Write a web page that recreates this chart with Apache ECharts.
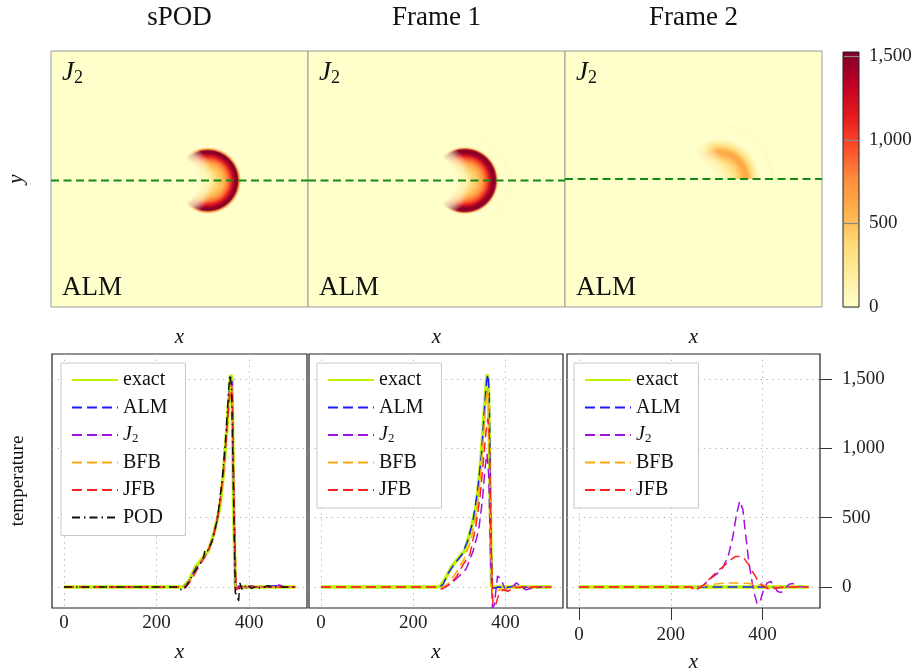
<!DOCTYPE html>
<html><head><meta charset="utf-8">
<script src="https://cdn.jsdelivr.net/npm/echarts@6/dist/echarts.min.js"></script>
<style>html,body{margin:0;padding:0;background:#fff}#c{width:919px;height:668px}</style>
</head><body><div id="c"></div>
<script>
// ---------- data ----------
const panelTitles = ['sPOD', 'Frame 1', 'Frame 2'];
const seriesNames = ['exact', 'ALM', 'J2', 'BFB', 'JFB', 'POD'];
const xTicks = [0, 200, 400];
const yTicks = [0, 500, 1000, 1500];
const colorbarTicks = [0, 500, 1000, 1500];
const colorbarRange = [0, 1527];
const ylOrRd = ['#ffffcc','#ffeda0','#fed976','#feb24c','#fd8d3c','#fc4e2a','#e31a1c','#bd0026','#800026'];

// heat field: centre x, centre y, radius (data units), dashed cut line y
const heatCenterX = [305, 305, 300];
const heatCenterY = [247, 247, 250];
const heatRadius = [65, 67, 80];
const cutLineY = [247, 247, 250];
const f1Ripples = [[1.3, 25], [1.6, 15]];
const f2Ripples = [[1.3, 25], [1.6, 18]];

// sPOD panel
const spodExact = [[0,0],[250,0],[258,3],[270,45],[283,140],[300,210],[312,262],[325,400],[337,580],[345,840],[350,1060],[355,1300],[358,1450],[360,1530],[363,1500],[366,700],[370,0],[500,0]];
const spodALM = [[0,0],[250,0],[258,0],[270,40],[285,140],[300,205],[315,290],[327,430],[338,620],[346,880],[352,1150],[357,1420],[360,1520],[363,1480],[367,600],[371,-10],[380,5],[395,-5],[410,0],[440,5],[460,10],[470,0],[500,0]];
const spodJ2 = [[0,0],[250,0],[260,0],[272,50],[288,150],[300,200],[315,285],[327,420],[338,610],[346,870],[352,1140],[357,1400],[360,1510],[363,1470],[367,600],[371,-30],[378,10],[390,-10],[405,10],[420,-5],[440,0],[455,10],[465,15],[475,0],[500,0]];
const spodBFB = [[0,0],[250,0],[260,0],[272,45],[288,145],[300,205],[315,290],[327,425],[338,600],[346,860],[352,1130],[357,1400],[360,1500],[363,1460],[367,580],[371,-15],[380,0],[500,0]];
const spodJFB = [[0,0],[250,0],[262,-5],[275,50],[290,140],[305,220],[320,330],[332,500],[342,760],[350,1050],[356,1320],[360,1420],[364,1380],[368,500],[372,-20],[385,5],[400,0],[500,0]];
const spodPOD = [[0,0],[245,0],[255,-25],[265,10],[280,100],[290,150],[300,200],[305,270],[310,260],[320,330],[332,500],[342,780],[350,1100],[355,1380],[358,1530],[362,1450],[366,700],[370,-40],[374,-60],[377,-110],[380,30],[385,-20],[395,20],[405,-10],[415,5],[425,-10],[440,10],[450,-5],[460,0],[500,0]];

// Frame 1 panel
const f1Exact = [[0,0],[250,0],[258,5],[270,60],[283,146],[300,215],[312,262],[325,410],[337,590],[345,850],[350,1060],[355,1310],[360,1533],[363,1500],[367,650],[370,0],[500,0]];
const f1ALM = [[0,0],[248,0],[255,-5],[265,20],[276,100],[290,170],[305,230],[318,330],[330,480],[340,700],[348,950],[354,1250],[359,1480],[362,1533],[365,1400],[369,300],[372,-10],[385,0],[400,-5],[420,5],[440,0],[460,-5],[480,0],[500,0]];
const f1J2 = [[0,0],[250,0],[262,-10],[280,20],[300,80],[315,130],[330,260],[342,410],[350,620],[356,860],[360,960],[364,800],[368,200],[372,-150],[376,-130],[383,80],[390,60],[400,-20],[412,-10],[424,30],[435,0],[445,-20],[460,-5],[480,0],[500,0]];
const f1BFB = [[0,0],[250,0],[262,-5],[278,30],[294,110],[310,200],[325,330],[337,520],[346,800],[353,1100],[358,1350],[361,1430],[364,1350],[368,400],[372,-40],[378,-40],[388,-20],[400,-15],[420,0],[500,0]];
const f1JFB = [[0,0],[250,0],[262,-15],[280,20],[294,76],[310,170],[323,236],[335,420],[345,650],[352,900],[358,1120],[362,1216],[365,1100],[369,300],[373,-120],[378,-140],[385,-60],[395,-20],[405,-30],[420,-5],[440,0],[500,0]];

// Frame 2 panel
const f2Exact = [[0,0],[500,0]];
const f2ALM = [[0,0],[245,0],[250,-15],[258,0],[300,0],[500,0]];
const f2J2 = [[0,0],[245,0],[255,-10],[270,10],[290,70],[310,120],[325,220],[335,360],[343,520],[350,620],[353,630],[357,560],[363,380],[370,180],[378,20],[383,-60],[388,-120],[395,-100],[402,-20],[410,30],[418,40],[425,10],[432,-30],[440,-40],[448,-10],[458,20],[466,25],[475,5],[500,0]];
const f2BFB = [[0,0],[255,0],[270,5],[290,20],[320,28],[345,30],[370,25],[395,15],[420,5],[450,0],[500,0]];
const f2JFB = [[0,0],[245,0],[250,-25],[258,-15],[270,10],[285,60],[300,110],[315,150],[328,190],[340,220],[350,220],[360,205],[370,160],[380,100],[390,45],[400,10],[410,-10],[420,-15],[435,-5],[450,0],[500,0]];

// ---------- helpers ----------
const SERIF = "'Liberation Serif', 'DejaVu Serif', serif";
function hexToRgb(h){return [parseInt(h.slice(1,3),16),parseInt(h.slice(3,5),16),parseInt(h.slice(5,7),16)];}
function cmap(v){
  let t = Math.max(0, Math.min(1, v / colorbarRange[1])) * (ylOrRd.length - 1);
  const i = Math.min(Math.floor(t), ylOrRd.length - 2), f = t - i;
  const a = hexToRgb(ylOrRd[i]), b = hexToRgb(ylOrRd[i+1]);
  return 'rgb(' + a.map((c,k)=>Math.round(c + (b[k]-c)*f)).join(',') + ')';
}
function interp(profile, x){
  for (let i=0;i<profile.length-1;i++){
    const [x0,v0]=profile[i],[x1,v1]=profile[i+1];
    if (x>=x0 && x<=x1) return v0 + (v1-v0)*(x-x0)/(x1-x0||1);
  }
  return 0;
}
function radialStops(profile, cx, R){
  const stops=[{offset:0,color:cmap(interp(profile,cx))}];
  profile.forEach(([x,v])=>{const o=(x-cx)/R; if(o>0&&o<1) stops.push({offset:o,color:cmap(v)});});
  stops.push({offset:1,color:cmap(interp(profile,cx+R))});
  return stops;
}
const heatProfiles = [spodExact, f1ALM, f2J2];
const heatRipples = [[], f1Ripples, f2Ripples];
const heatAngles = [[0, Math.PI*2], [0, Math.PI*2], [-Math.PI*0.75, 0]];
const rippleAngles = [[0,0], [-Math.PI*0.42, Math.PI*0.3], [-Math.PI*0.45, 0]];

function heatRender(k){
  return function(params, api){
    const c = api.coord([api.value(0), api.value(1)]);
    const R = heatRadius[k];
    const s = api.size([R, R]);
    const r = (s[0] + s[1]) / 2;
    const children = [];
    heatRipples[k].forEach(([f, v]) => {
      children.push({type:'arc', shape:{cx:c[0], cy:c[1], r:r*f, startAngle:rippleAngles[k][0], endAngle:rippleAngles[k][1], clockwise:true},
        style:{stroke:cmap(v), lineWidth:5, fill:null}});
    });
    children.push({type:'sector', shape:{cx:c[0], cy:c[1], r0:0, r:r, startAngle:heatAngles[k][0], endAngle:heatAngles[k][1], clockwise:true},
      style:{fill:new echarts.graphic.RadialGradient(c[0], c[1], r, radialStops(heatProfiles[k], api.value(0), R), true)}});
    const oc = c[0] - r, orr = 1.2 * r;
    children.push({type:'circle', shape:{cx:oc, cy:c[1], r:orr},
      style:{fill:new echarts.graphic.RadialGradient(oc, c[1], orr, [
        {offset:0,color:'rgba(255,255,204,1)'},{offset:0.6,color:'rgba(255,255,204,1)'},
        {offset:0.8,color:'rgba(255,255,204,0.7)'},{offset:1,color:'rgba(255,255,204,0)'}], true)}});
    return {type:'group', children};
  };
}

// ---------- layout ----------
const topGrids = [{left:51,top:51,width:257,height:256},{left:308,top:51,width:257,height:256},{left:565,top:51,width:257,height:256}];
const cbGrid = {left:843,top:52,width:16,height:255};
const botGrids = [{left:52,top:354,width:255,height:254},{left:309,top:354,width:254,height:254},{left:567,top:354,width:253,height:254}];

const grid = [];
topGrids.forEach(g=>grid.push(Object.assign({show:true, outerBoundsMode:'none', containLabel:false, backgroundColor:'#ffffcc', borderColor:'#9a9a9a', borderWidth:1}, g)));
grid.push(Object.assign({show:false, outerBoundsMode:'none', containLabel:false}, cbGrid));
botGrids.forEach(g=>grid.push(Object.assign({show:true, outerBoundsMode:'none', containLabel:false, borderColor:'#222', borderWidth:1.2}, g)));

const xAxis = [], yAxis = [];
const nameStyle = {fontFamily:SERIF, fontSize:21, fontStyle:'italic', color:'#111'};
const labStyle = {fontFamily:SERIF, fontSize:19, color:'#222'};
const noLine = {show:false, onZero:false};
for (let k=0;k<3;k++){
  xAxis.push({gridIndex:k, type:'value', min:0, max:500, axisLine:noLine, axisTick:{show:false}, axisLabel:{show:false}, splitLine:{show:false},
    name:'x', nameLocation:'middle', nameGap:20, nameTextStyle:nameStyle});
  yAxis.push({gridIndex:k, type:'value', min:0, max:500, axisLine:noLine, axisTick:{show:false}, axisLabel:{show:false}, splitLine:{show:false},
    name:k===0?'y':'', nameLocation:'middle', nameGap:24, nameTextStyle:nameStyle});
}
xAxis.push({gridIndex:3, type:'value', min:0, max:1, show:false, axisLine:noLine});
yAxis.push({gridIndex:3, type:'value', min:colorbarRange[0], max:colorbarRange[1], position:'right', z:10,
  axisLine:noLine, splitLine:{show:false},
  axisTick:{show:true, inside:true, length:15, customValues:colorbarTicks, lineStyle:{color:'#8a8a8a', width:1.2}},
  axisLabel:{customValues:colorbarTicks, margin:10, formatter:v=>v.toLocaleString('en-US'), ...labStyle}});
const gridLine = {show:true, lineStyle:{type:[1.2,4.5], color:'#aaaaaa', width:1}};
for (let k=0;k<3;k++){
  const last = k===2;
  xAxis.push({gridIndex:4+k, type:'value', min:-26, max:525, splitNumber:3,
    axisLine:noLine, axisTick:{show:last, length:12, customValues:xTicks, lineStyle:{color:'#333'}},
    axisLabel:{customValues:xTicks, margin:last?18:6, ...labStyle}, splitLine:gridLine,
    name:'x', nameLocation:'middle', nameGap:last?44:34, nameTextStyle:nameStyle});
  yAxis.push({gridIndex:4+k, type:'value', min:-151, max:1680, splitNumber:4, position:last?'right':'left',
    axisLine:noLine, axisTick:{show:last, length:12, customValues:yTicks, lineStyle:{color:'#333'}},
    axisLabel:{show:last, customValues:yTicks, margin:22, formatter:v=>v.toLocaleString('en-US'), ...labStyle}, splitLine:gridLine,
    name:k===0?'temperature':'', nameLocation:'middle', nameGap:24, nameTextStyle:{fontFamily:SERIF, fontSize:19, color:'#111'}});
}

// ---------- series ----------
const series = [];
for (let k=0;k<3;k++){
  series.push({type:'custom', xAxisIndex:k, yAxisIndex:k, clip:true, silent:true, z:2,
    data:[[heatCenterX[k], heatCenterY[k]]], renderItem:heatRender(k)});
  series.push({type:'line', xAxisIndex:k, yAxisIndex:k, symbol:'none', silent:true, z:5,
    data:[[0,cutLineY[k]],[500,cutLineY[k]]], lineStyle:{color:'#148c14', width:2, type:[8,4.5]}});
}
series.push({type:'custom', xAxisIndex:3, yAxisIndex:3, silent:true, z:2, data:[colorbarRange],
  renderItem:function(params, api){
    const p0 = api.coord([0, api.value(0)]), p1 = api.coord([1, api.value(1)]);
    return {type:'rect', shape:{x:p0[0], y:p1[1], width:p1[0]-p0[0], height:p0[1]-p1[1]},
      style:{fill:new echarts.graphic.LinearGradient(0,1,0,0, ylOrRd.map((c,i)=>({offset:i/(ylOrRd.length-1), color:c}))), stroke:'#222', lineWidth:1}};
  }});

const styles = {
  exact:{color:'#bdf500', width:3.5, type:'solid'},
  ALM:{color:'#1c1cff', width:1.5, type:[10,5]},
  J2:{color:'#a010e0', width:1.5, type:[10,5]},
  BFB:{color:'#ffa812', width:1.5, type:[10,5]},
  JFB:{color:'#ff2020', width:1.5, type:[10,5]},
  POD:{color:'#111111', width:1.5, type:[8,4,1.5,4]}
};
const panelData = [
  {exact:spodExact, ALM:spodALM, J2:spodJ2, BFB:spodBFB, JFB:spodJFB, POD:spodPOD},
  {exact:f1Exact, ALM:f1ALM, J2:f1J2, BFB:f1BFB, JFB:f1JFB},
  {exact:f2Exact, ALM:f2ALM, J2:f2J2, BFB:f2BFB, JFB:f2JFB}
];
panelData.forEach((pd,k)=>{
  seriesNames.forEach((n,j)=>{
    if (!pd[n]) return;
    series.push({type:'line', name:n, xAxisIndex:4+k, yAxisIndex:4+k, data:pd[n], symbol:'none', showSymbol:false, z:3+j,
      lineStyle:{color:styles[n].color, width:styles[n].width, type:styles[n].type}, itemStyle:{color:styles[n].color}, clip:true});
  });
});

const legendBase = {orient:'vertical', top:363, itemWidth:46, itemHeight:14, itemGap:7.5, selectedMode:false,
  backgroundColor:'#fff', borderColor:'#c8c8c8', borderWidth:1, padding:[7,18,8,10],
  itemStyle:{opacity:0},
  textStyle:{fontFamily:SERIF, fontSize:20, color:'#111', lineHeight:19.3,
    rich:{j:{fontFamily:SERIF, fontSize:20, fontStyle:'italic', lineHeight:19.3}, s:{fontFamily:SERIF, fontSize:13, verticalAlign:'bottom', lineHeight:19.3}}},
  formatter:n=>n==='J2'?'{j|J}{s|2}':n};
const legend = [
  Object.assign({}, legendBase, {left:61, data:seriesNames}),
  Object.assign({}, legendBase, {left:317, data:seriesNames.slice(0,5)}),
  Object.assign({}, legendBase, {left:574, data:seriesNames.slice(0,5)})
];

// ---------- text ----------
const graphic = [];
const topCenters = [179.5, 436.5, 693.5];
panelTitles.forEach((t,k)=>graphic.push({type:'text', x:topCenters[k], y:18, silent:true,
  style:{text:t, fontFamily:SERIF, fontSize:27, fill:'#111', align:'center', verticalAlign:'middle'}}));
topGrids.forEach(g=>{
  graphic.push({type:'text', x:g.left+11, y:73, silent:true,
    style:{text:'{j|J}{s|2}', fill:'#111', align:'left', verticalAlign:'middle',
      rich:{j:{fontFamily:SERIF, fontSize:27, fontStyle:'italic', lineHeight:28}, s:{fontFamily:SERIF, fontSize:18, verticalAlign:'bottom', lineHeight:28}}}});
  graphic.push({type:'text', x:g.left+11, y:288, silent:true,
    style:{text:'ALM', fontFamily:SERIF, fontSize:27, fill:'#111', align:'left', verticalAlign:'middle'}});
});

const chart = echarts.init(document.getElementById('c'), null, {renderer:'canvas'});
chart.setOption({animation:false, backgroundColor:'#fff', grid, xAxis, yAxis, series, legend, graphic});
</script></body></html>
